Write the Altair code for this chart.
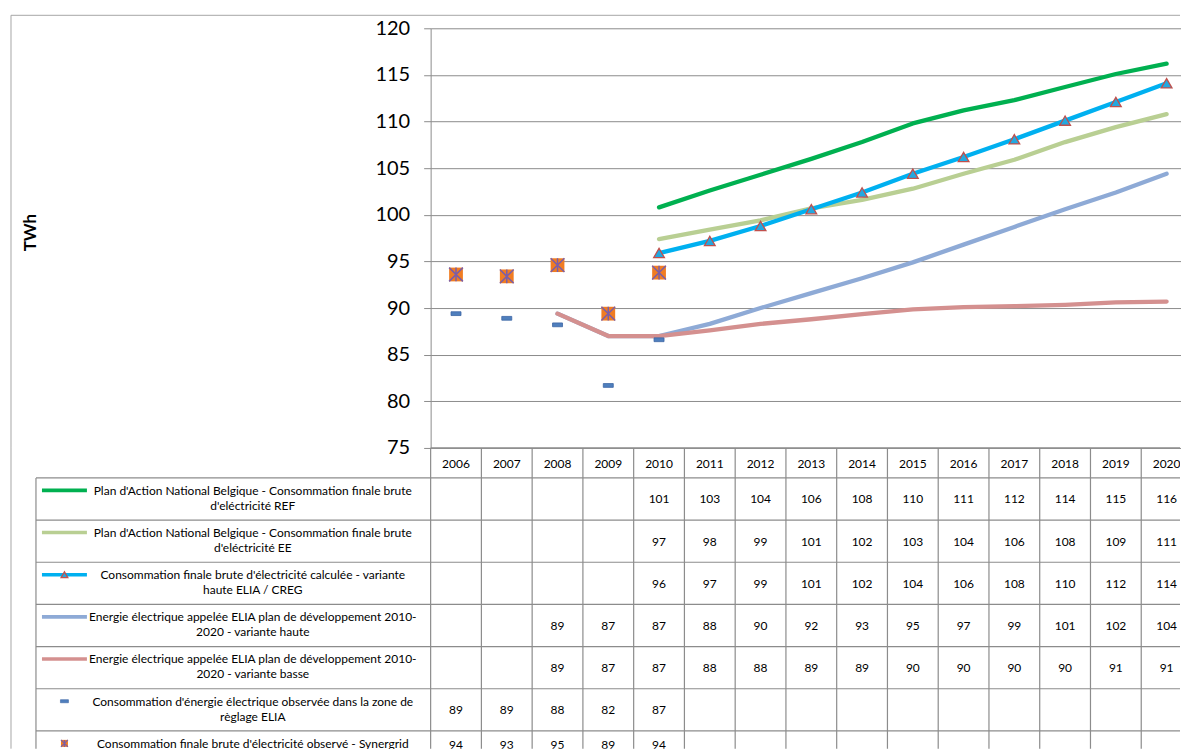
import altair as alt
import pandas as pd

# ---- data -------------------------------------------------------------
years = [str(y) for y in range(2006, 2021)]

ref_vals = [None, None, None, None, 100.8, 102.6, 104.3, 106.0, 107.8, 109.8, 111.2, 112.3, 113.7, 115.1, 116.2]
ee_vals = [None, None, None, None, 97.4, 98.4, 99.4, 100.7, 101.6, 102.8, 104.4, 105.9, 107.8, 109.4, 110.8]
calc_vals = [None, None, None, None, 95.9, 97.2, 98.8, 100.6, 102.4, 104.4, 106.2, 108.1, 110.1, 112.1, 114.1]
haute_vals = [None, None, 89.4, 87.0, 87.0, 88.3, 90.0, 91.6, 93.2, 94.9, 96.8, 98.7, 100.6, 102.4, 104.4]
basse_vals = [None, None, 89.4, 87.0, 87.0, 87.6, 88.3, 88.8, 89.35, 89.85, 90.1, 90.2, 90.35, 90.6, 90.7]
obs_vals = [89.4, 88.9, 88.2, 81.7, 86.6, None, None, None, None, None, None, None, None, None, None]
syn_vals = [93.6, 93.4, 94.6, 89.4, 93.8, None, None, None, None, None, None, None, None, None, None]

series_keys = ["ref", "ee", "calc", "haute", "basse", "obs", "syn"]
series_values = [ref_vals, ee_vals, calc_vals, haute_vals, basse_vals, obs_vals, syn_vals]
series_colors = ["#00b050", "#b9cf93", "#00b0f0", "#8eaad6", "#d4908f", "#4a78b8", "#f07c22"]
line_keys = ["ref", "ee", "calc", "haute", "basse"]

legend_lines = [
    ["Plan d'Action National Belgique - Consommation finale brute", "d'eléctricité REF"],
    ["Plan d'Action National Belgique - Consommation finale brute", "d'eléctricité EE"],
    ["Consommation finale brute d'électricité calculée - variante", "haute ELIA / CREG"],
    ["Energie électrique appelée ELIA plan de développement 2010-", "2020 - variante haute"],
    ["Energie électrique appelée ELIA plan de développement 2010-", "2020 - variante basse"],
    ["Consommation d'énergie électrique observée dans la  zone de", "règlage ELIA"],
    ["Consommation finale brute d'électricité observé - Synergrid"],
]

y_ticks = list(range(75, 121, 5))

# ---- styling ----------------------------------------------------------
FONT = "Lato"
GRID = "#8c8c8c"
BORDER = "#a6a6a6"
TRI_FILL = "#23a8e0"
TRI_STROKE = "#c0504d"
STAR = "#7b5ea7"
BAND_W = 762     # full width of the 15 year columns
W = 750          # visible part of the plot
TOP_H = 420
BOTTOM_H = 301
HEADER_H = 30
TXT = 12
KEY_X0, KEY_X1, KEY_XC = -389, -344, -366.5
LEGEND_LEFT = -395
OUTER_LEFT = -420
LEGEND_CENTER = -178

# ---- long table -------------------------------------------------------
rows = []
for key, vals in zip(series_keys, series_values):
    for yr, v in zip(years, vals):
        if v is not None:
            rows.append({"series": key, "year": yr, "value": v})
long_df = pd.DataFrame(rows)

# table row geometry from the number of legend lines in each row
row_h = [13.5 + 14.35 * len(lines) for lines in legend_lines]
tops = []
t = HEADER_H
for h in row_h:
    tops.append(t)
    t += h
rows_df = pd.DataFrame({
    "series": series_keys,
    "top": tops,
    "mid": [a + h / 2 for a, h in zip(tops, row_h)],
    "ky": [a + 12.5 for a in tops],
})
tbl_df = long_df.merge(rows_df, on="series")

text_rows = []
for key, a, lines in zip(series_keys, tops, legend_lines):
    for i, s in enumerate(lines):
        text_rows.append({"series": key, "line": s, "ly": a + 12.8 + i * 15})
legend_text_df = pd.DataFrame(text_rows)

one = pd.DataFrame({"k": [0]})
years_df = pd.DataFrame({"year": years})

xs = alt.Scale(domain=years, range=[0, BAND_W], paddingInner=0, paddingOuter=0)
color_scale = alt.Scale(domain=series_keys, range=series_colors)

# ---- upper chart: lines and markers ----------------------------------
x_top = alt.X("year:N", scale=xs, axis=None)
y_top = alt.Y(
    "value:Q",
    scale=alt.Scale(domain=[75, 120], nice=False, zero=False),
    axis=alt.Axis(
        values=y_ticks, grid=True, gridColor=GRID, gridWidth=1,
        domainColor=GRID, tickColor=GRID, tickSize=7,
        labelFontSize=20, labelColor="#000", labelPadding=14,
        title="TWh", titleFontSize=17, titleFontWeight="bold", titleColor="#000",
        titleAngle=270, titleX=-400, titleY=204, titleBaseline="middle", titleAlign="center",
    ),
)

base = alt.Chart(long_df)
layers = []
for key, col in zip(series_keys, series_colors):
    if key in line_keys:
        layers.append(
            base.transform_filter(alt.datum.series == key)
            .mark_line(color=col, strokeWidth=4.3, strokeCap="round", strokeJoin="round")
            .encode(x=x_top, y=y_top)
        )

layers.append(
    base.transform_filter(alt.datum.series == "calc")
    .mark_point(shape="triangle-up", filled=True, fill=TRI_FILL, stroke=TRI_STROKE,
                strokeWidth=1.3, size=115, opacity=1)
    .encode(x=x_top, y=y_top)
)
layers.append(
    base.transform_filter(alt.datum.series == "obs")
    .mark_point(shape="M-1,-0.38L1,-0.38L1,0.38L-1,0.38Z", filled=True, fill="#4f7fbd",
                stroke="#3c66a4", strokeWidth=0.8, size=100, opacity=1)
    .encode(x=x_top, y=y_top)
)
layers.append(
    base.transform_filter(alt.datum.series == "syn")
    .mark_point(shape="square", filled=True, fill="#f07c22", size=190, opacity=1)
    .encode(x=x_top, y=y_top)
)
layers.append(
    base.transform_filter(alt.datum.series == "syn")
    .mark_point(shape="M-1,-1L1,1M-1,1L1,-1M0,-1L0,1", filled=False, stroke=STAR,
                strokeWidth=1.5, size=190, opacity=1)
    .encode(x=x_top, y=y_top)
)

# outer chart frame (top edge and left edge)
layers.append(
    alt.Chart(one).mark_rule(color=BORDER, strokeWidth=1)
    .encode(x=alt.value(OUTER_LEFT), x2=alt.value(W), y=alt.value(-13))
)
layers.append(
    alt.Chart(one).mark_rule(color=BORDER, strokeWidth=1)
    .encode(x=alt.value(OUTER_LEFT), y=alt.value(-13), y2=alt.value(TOP_H))
)

top = alt.layer(*layers).properties(width=W, height=TOP_H)

# ---- lower chart: data table with legend keys ------------------------
yt = alt.Scale(domain=[0, BOTTOM_H], reverse=True, nice=False, zero=False)
x_tbl = alt.X("year:N", scale=xs, axis=None)

tl = []
# horizontal row separators
tl.append(
    alt.Chart(one).mark_rule(color=GRID, strokeWidth=1.2)
    .encode(x=alt.value(0), x2=alt.value(W), y=alt.value(0))
)
tl.append(
    alt.Chart(rows_df).mark_rule(color=GRID, strokeWidth=1.2)
    .encode(x=alt.value(LEGEND_LEFT), x2=alt.value(W), y=alt.Y("top:Q", scale=yt, axis=None))
)
# vertical column separators
tl.append(
    alt.Chart(years_df).mark_rule(color=GRID, strokeWidth=1.2)
    .encode(x=alt.X("year:N", scale=xs, axis=None, bandPosition=0),
            y=alt.value(0), y2=alt.value(BOTTOM_H))
)
tl.append(
    alt.Chart(one).mark_rule(color=GRID, strokeWidth=1.2)
    .encode(x=alt.value(LEGEND_LEFT), y=alt.value(HEADER_H), y2=alt.value(BOTTOM_H))
)
tl.append(
    alt.Chart(one).mark_rule(color=BORDER, strokeWidth=1)
    .encode(x=alt.value(OUTER_LEFT), y=alt.value(0), y2=alt.value(BOTTOM_H))
)
# year header
tl.append(
    alt.Chart(years_df).mark_text(fontSize=TXT, baseline="middle", color="#000", clip=True)
    .encode(x=x_tbl, y=alt.value(HEADER_H / 2 + 1), text="year:N")
)
# values
tl.append(
    alt.Chart(tbl_df).mark_text(fontSize=TXT, baseline="middle", color="#000", dy=0.5, clip=True)
    .encode(x=x_tbl, y=alt.Y("mid:Q", scale=yt, axis=None),
            text=alt.Text("value:Q", format=".0f"))
)
# legend labels
tl.append(
    alt.Chart(legend_text_df).mark_text(fontSize=TXT, baseline="middle", align="center", color="#000")
    .encode(x=alt.value(LEGEND_CENTER), y=alt.Y("ly:Q", scale=yt, axis=None), text="line:N")
)
# legend keys
tl.append(
    alt.Chart(rows_df).transform_filter(alt.FieldOneOfPredicate(field="series", oneOf=line_keys))
    .mark_rule(strokeWidth=3.6)
    .encode(x=alt.value(KEY_X0), x2=alt.value(KEY_X1),
            y=alt.Y("ky:Q", scale=yt, axis=None),
            color=alt.Color("series:N", scale=color_scale, legend=None))
)
tl.append(
    alt.Chart(rows_df).transform_filter(alt.datum.series == "calc")
    .mark_point(shape="triangle-up", filled=True, fill=TRI_FILL, stroke=TRI_STROKE,
                strokeWidth=1.3, size=45, opacity=1)
    .encode(x=alt.value(KEY_XC), y=alt.Y("ky:Q", scale=yt, axis=None))
)
tl.append(
    alt.Chart(rows_df).transform_filter(alt.datum.series == "obs")
    .mark_point(shape="M-1,-0.38L1,-0.38L1,0.38L-1,0.38Z", filled=True, fill="#4f7fbd",
                stroke="#3c66a4", strokeWidth=0.6, size=64, opacity=1)
    .encode(x=alt.value(KEY_XC), y=alt.Y("ky:Q", scale=yt, axis=None))
)
tl.append(
    alt.Chart(rows_df).transform_filter(alt.datum.series == "syn")
    .mark_point(shape="square", filled=True, fill="#f07c22", size=49, opacity=1)
    .encode(x=alt.value(KEY_XC), y=alt.Y("ky:Q", scale=yt, axis=None))
)
tl.append(
    alt.Chart(rows_df).transform_filter(alt.datum.series == "syn")
    .mark_point(shape="M-1,-1L1,1M-1,1L1,-1M0,-1L0,1", filled=False, stroke=STAR,
                strokeWidth=1.2, size=49, opacity=1)
    .encode(x=alt.value(KEY_XC), y=alt.Y("ky:Q", scale=yt, axis=None))
)

bottom = alt.layer(*tl).properties(width=W, height=BOTTOM_H)

chart = (
    alt.vconcat(top, bottom, spacing=0, bounds="flush")
    .properties(padding={"left": 10, "top": 14, "right": 0, "bottom": 0}, background="white")
    .configure(font=FONT)
    .configure_view(strokeWidth=0)
)

chart.save("out.html", embed_options={"renderer": "svg", "actions": False})
